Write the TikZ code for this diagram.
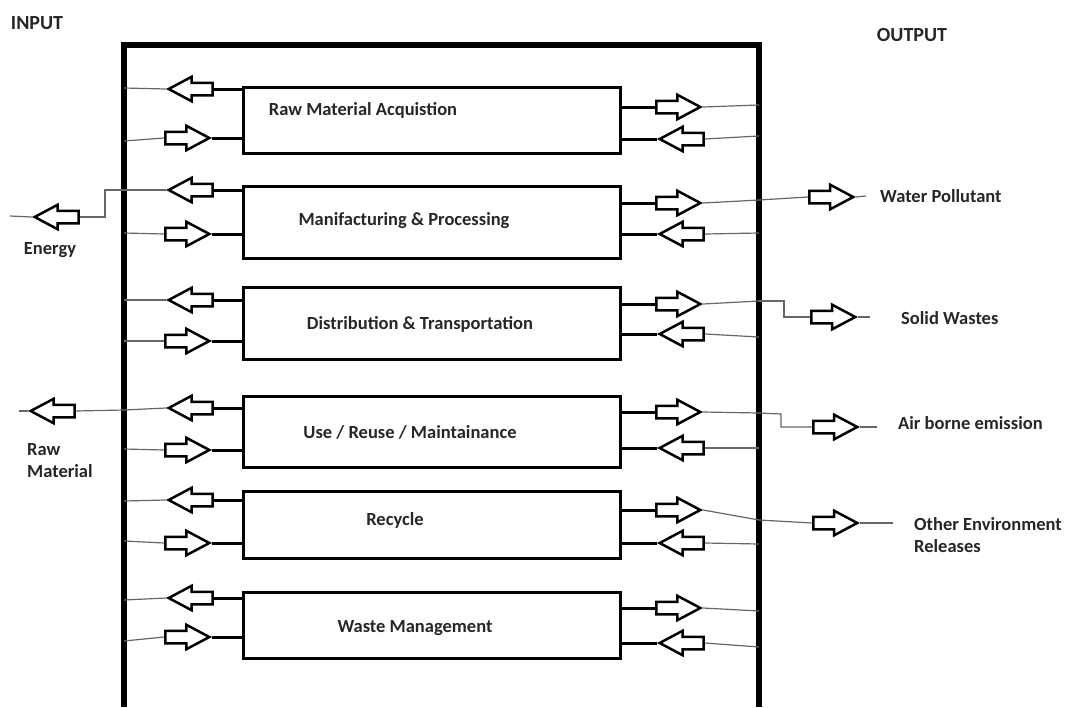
\documentclass[tikz,border=0pt]{standalone}
\usepackage{fontspec}
\setmainfont{Carlito}
\usetikzlibrary{shapes.arrows}

\tikzset{
  stage/.style={draw, line width=3pt, minimum width=377pt, inner sep=0pt},
  stagetext/.style={font=\fontsize{18.5}{22}\selectfont\bfseries, text=black!85},
  sidelabel/.style={font=\fontsize{18.5}{22}\selectfont\bfseries, text=black!85, align=left, inner sep=0pt},
  sidehead/.style={font=\fontsize{20}{24}\selectfont\bfseries, text=black!85, inner sep=0pt},
  flowarrow/.style={draw, line width=2.5pt, shape=single arrow, single arrow head extend=6pt,
    single arrow tip angle=56, minimum height=44pt, inner sep=5pt},
  toleft/.style={flowarrow, shape border rotate=180},
  toright/.style={flowarrow},
  feed/.style={line width=3pt},
  thinline/.style={line width=1.2pt, draw=black!60}
}

\begin{document}
\begin{tikzpicture}[x=1pt,y=-1pt]
  \useasboundingbox (0,0) rectangle (1065,707);

  % the system boundary
  \draw[line width=5.5pt] (124,707) -- (124,45) -- (759,45) -- (759,707);
  \node[sidehead] (input) at (37,23) {INPUT};
  \node[sidehead] (output) at (912,35) {OUTPUT};

  % the life cycle stages
  \node[stage, minimum height=66pt] (s1) at (431.5,120) {};
  \node[stage, minimum height=72pt] (s2) at (431.5,222) {};
  \node[stage, minimum height=72pt] (s3) at (431.5,323) {};
  \node[stage, minimum height=71pt] (s4) at (431.5,431.5) {};
  \node[stage, minimum height=67pt] (s5) at (431.5,524.5) {};
  \node[stage, minimum height=66pt] (s6) at (431.5,625) {};
  \node[stagetext] (txt1) at (363,110) {Raw Material Acquistion};
  \node[stagetext] (txt2) at (404,221) {Manifacturing \& Processing};
  \node[stagetext] (txt3) at (420,324) {Distribution \& Transportation};
  \node[stagetext] (txt4) at (410,432) {Use / Reuse / Maintainance};
  \node[stagetext] (txt5) at (395,520) {Recycle};
  \node[stagetext] (txt6) at (415,628) {Waste Management};

  % arrows in and out of every stage
  \foreach \i/\lt/\lb/\rt/\rb/\flt/\flb/\frt/\frb in {1/89/138/107/139/88/141/105/136,
      2/190/234/203/234/190/233/200/233, 3/300/341/304/334/300/341/301/337,
      4/408/450/412/448/410/449/413/448, 5/500/543/510/543/501/541/520/544,
      6/598/637/608/643/600/641/611/647}{
    \node[toleft, anchor=tip] (lout\i) at (166,\lt) {};
    \node[toright, anchor=tip] (lin\i) at (212,\lb) {};
    \node[toright, anchor=tip] (rout\i) at (703,\rt) {};
    \node[toleft, anchor=tip] (rin\i) at (657,\rb) {};
    \coordinate (flout\i) at (124,\flt);
    \coordinate (flin\i) at (124,\flb);
    \coordinate (frout\i) at (759,\frt);
    \coordinate (frin\i) at (759,\frb);
    \draw[feed] (lout\i.tail) -- (lout\i.tail -| s\i.west);
    \draw[feed] (lin\i.tip) -- (lin\i.tip -| s\i.west);
    \draw[feed] (rout\i.tail) -- (rout\i.tail -| s\i.east);
    \draw[feed] (rin\i.tip) -- (rin\i.tip -| s\i.east);
    \draw[thinline] (lout\i.tip) -- (flout\i);
    \draw[thinline] (lin\i.tail) -- (flin\i);
    \draw[thinline] (rout\i.tip) -- (frout\i);
    \draw[thinline] (rin\i.tail) -- (frin\i);
  }

  % inputs
  \node[toleft, anchor=tip] (energyarrow) at (32,217) {};
  \coordinate (energyknee) at (105,190);
  \coordinate (energyend) at (10,216);
  \node[sidelabel] (energy) at (50,250) {Energy};
  \draw[thinline] (flout2) -- (energyknee) |- (energyarrow.tail);
  \draw[thinline] (energyarrow.tip) -- (energyend);

  \node[toleft, anchor=tip] (rawarrow) at (28,411) {};
  \coordinate (rawend) at (19,411);
  \node[sidelabel, anchor=west] (raw) at (27,461) {Raw\\Material};
  \draw[thinline] (flout4) -- (rawarrow.tail);
  \draw[thinline] (rawarrow.tip) -- (rawend);

  % outputs
  \node[toright, anchor=tail] (waterarrow) at (808,197) {};
  \coordinate (waterend) at (866,196);
  \node[sidelabel, anchor=west] (water) at (880,196) {Water Pollutant};
  \draw[thinline] (frout2) -- (waterarrow.tail);
  \draw[thinline] (waterarrow.tip) -- (waterend);

  \node[toright, anchor=tail] (solidarrow) at (810,317) {};
  \coordinate (solidknee) at (784,301);
  \coordinate (solidend) at (870,317);
  \node[sidelabel, anchor=west] (solid) at (901,318) {Solid Wastes};
  \draw[thinline] (frout3) -- (solidknee) |- (solidarrow.tail);
  \draw[thinline] (solidarrow.tip) -- (solidend);

  \node[toright, anchor=tail] (airarrow) at (812,427) {};
  \coordinate (airknee) at (781,414);
  \coordinate (airend) at (877,427);
  \node[sidelabel, anchor=west] (air) at (898,423) {Air borne emission};
  \draw[thinline] (frout4) -- (airknee) |- (airarrow.tail);
  \draw[thinline] (airarrow.tip) -- (airend);

  \node[toright, anchor=tail] (otherarrow) at (812,523) {};
  \coordinate (otherend) at (893,523);
  \node[sidelabel, anchor=west] (other) at (914,535) {Other Environment\\Releases};
  \draw[thinline] (frout5) -- (otherarrow.tail);
  \draw[thinline] (otherarrow.tip) -- (otherend);
\end{tikzpicture}
\end{document}
